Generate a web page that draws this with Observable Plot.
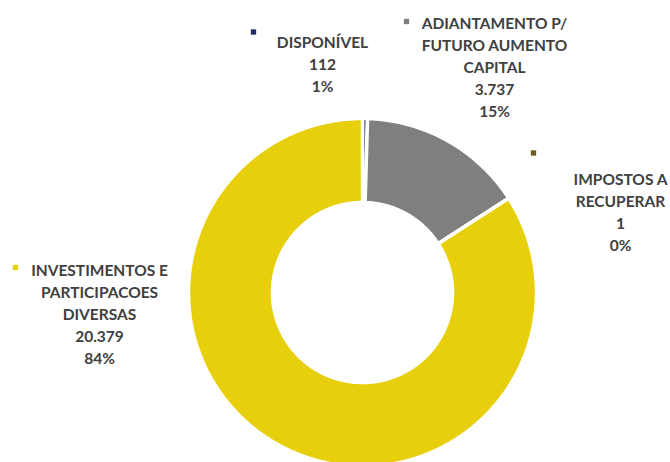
<!DOCTYPE html>
<html>
<head>
<meta charset="utf-8">
<script src="https://cdn.jsdelivr.net/npm/d3@7"></script>
<script src="https://cdn.jsdelivr.net/npm/@observablehq/plot@0.6"></script>
<style>
  html, body { margin: 0; padding: 0; background: #ffffff; overflow: hidden; }
  #chart { width: 670px; height: 462px; }
</style>
</head>
<body>
<div id="chart"></div>
<script>
// ---- data ----
const categories = [
  "DISPONÍVEL",
  "ADIANTAMENTO P/ FUTURO AUMENTO CAPITAL",
  "IMPOSTOS A RECUPERAR",
  "INVESTIMENTOS E PARTICIPACOES DIVERSAS"
];
const values = [112, 3737, 1, 20379];
const valueLabels = ["112", "3.737", "1", "20.379"];
const percentLabels = ["1%", "15%", "0%", "84%"];
const nameLines = [
  ["DISPONÍVEL"],
  ["ADIANTAMENTO P/", "FUTURO AUMENTO", "CAPITAL"],
  ["IMPOSTOS A", "RECUPERAR"],
  ["INVESTIMENTOS E", "PARTICIPACOES", "DIVERSAS"]
];
const colors = ["#1f2a63", "#7f7f7f", "#6e5e1e", "#e8cf0b"];

// ---- layout (pixels) ----
const W = 670, H = 462;
const cx = 362, cy = 292, R = 174, r0 = 90;
const labelPos = [
  {x: 322, y: 62},
  {x: 494, y: 65.5},
  {x: 620, y: 210.5},
  {x: 99, y: 312}
];
const markerPos = [
  {x: 253, y: 31.5},
  {x: 406, y: 21},
  {x: 533, y: 152.5},
  {x: 15, y: 267}
];

// ---- arcs from d3.pie ----
const arcs = d3.pie().sort(null).value(d => d)(values);
const pts = [];
arcs.forEach((a, i) => {
  const n = Math.max(2, Math.ceil((a.endAngle - a.startAngle) / (Math.PI / 360)));
  for (let k = 0; k <= n; k++) {
    const t = a.startAngle + (a.endAngle - a.startAngle) * k / n;
    pts.push({cat: categories[i], x: cx + R * Math.sin(t), y: cy - R * Math.cos(t)});
  }
  for (let k = n; k >= 0; k--) {
    const t = a.startAngle + (a.endAngle - a.startAngle) * k / n;
    pts.push({cat: categories[i], x: cx + r0 * Math.sin(t), y: cy - r0 * Math.cos(t)});
  }
});

const labels = categories.map((c, i) => ({
  cat: c,
  x: labelPos[i].x,
  y: labelPos[i].y,
  text: [...nameLines[i], valueLabels[i], percentLabels[i]].join("\n")
}));
const markers = categories.map((c, i) => ({cat: c, x: markerPos[i].x, y: markerPos[i].y}));

const chart = Plot.plot({
  width: W,
  height: H,
  margin: 0,
  style: {background: "white", overflow: "hidden"},
  x: {domain: [0, W], range: [0, W], axis: null},
  y: {domain: [0, H], range: [0, H], axis: null},
  color: {domain: categories, range: colors},
  marks: [
    Plot.line(pts, {
      x: "x", y: "y", z: "cat", fill: "cat",
      stroke: "white", strokeWidth: 3.5, strokeLinejoin: "miter",
      curve: "linear-closed"
    }),
    Plot.dot(markers, {x: "x", y: "y", fill: "cat", symbol: "square", r: 3}),
    Plot.text(labels, {
      x: "x", y: "y", text: "text",
      textAnchor: "middle", lineAnchor: "middle", lineHeight: 1.42,
      fontSize: 15.5, fontWeight: "bold", fontFamily: "Lato",
      fill: "#404040"
    })
  ]
});
document.getElementById("chart").appendChild(chart);
</script>
</body>
</html>
